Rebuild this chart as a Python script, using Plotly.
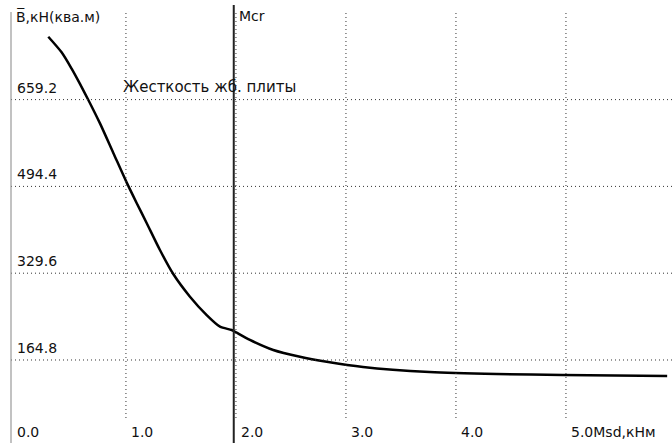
import plotly.graph_objects as go

# data
msd = [0.294, 0.415, 0.506, 0.582, 0.657, 0.764, 0.885, 1.006, 1.097, 1.188, 1.309, 1.43,
       1.582, 1.734, 1.855, 1.961, 2.006, 2.127, 2.339, 2.582, 2.825, 3.155, 3.76, 4.37, 4.97, 5.92]
bval = [778.6, 749, 718, 689, 659, 614, 558, 502, 463, 425, 373.6, 328,
        285, 250, 228, 221.8, 216.6, 202.8, 183.8, 171, 161.6, 151.7, 142.2, 138.2, 136.3, 134.4]
x_ticks = [0.0, 1.0, 2.0, 3.0, 4.0, 5.0]
x_labels = ["0.0", "1.0", "2.0", "3.0", "4.0", "5.0Msd,кНм"]
y_ticks = [164.8, 329.6, 494.4, 659.2]
y_labels = ["164.8", "329.6", "494.4", "659.2"]
mcr = 1.98
y_title = "B\u0305,кН(ква.м)"
mcr_label = "Mcr"
curve_label = "Жесткость жб. плиты"

FONT = dict(family="DejaVu Sans, Liberation Sans, Arial", size=14, color="#111")

fig = go.Figure()
fig.add_trace(go.Scatter(x=msd, y=bval, mode="lines",
                         line=dict(color="black", width=2.5, shape="spline", smoothing=0.7),
                         hoverinfo="skip", showlegend=False))

shapes = []
# horizontal dotted grid
for v in y_ticks:
    shapes.append(dict(type="line", xref="paper", yref="y", x0=11/672, x1=1, y0=v, y1=v,
                       line=dict(color="#333", width=1, dash="1px,3px")))
# vertical dotted grid
for v in x_ticks[1:]:
    shapes.append(dict(type="line", xref="x", yref="paper", x0=v, x1=v, y0=1-418/443, y1=1-13/443,
                       line=dict(color="#333", width=1, dash="1px,3px")))
# left axis line
shapes.append(dict(type="line", xref="paper", yref="paper", x0=11/672, x1=11/672, y0=0, y1=1-12/443,
                   line=dict(color="#999", width=1.2)))
# Mcr line
shapes.append(dict(type="line", xref="x", yref="paper", x0=mcr, x1=mcr, y0=0, y1=1-5/443,
                   line=dict(color="#222", width=2)))

ann = []
for v, t in zip(y_ticks, y_labels):
    ann.append(dict(x=15/672, xref="paper", y=v, yref="y", text=t, showarrow=False,
                    xanchor="left", yanchor="bottom", yshift=2, font=FONT))
for v, t in zip(x_ticks, x_labels):
    ann.append(dict(x=v, xref="x", y=11/443, yref="paper", text=t, showarrow=False,
                    xanchor="left", yanchor="middle", xshift=3 if v > 0 else -1, font=FONT))
ann.append(dict(x=14/672, xref="paper", y=1-16/443, yref="paper", text=y_title, showarrow=False,
                xanchor="left", yanchor="middle", font=FONT))
ann.append(dict(x=mcr, xref="x", y=1-16/443, yref="paper", text=mcr_label, showarrow=False,
                xanchor="left", yanchor="middle", xshift=3, font=FONT))
ann.append(dict(x=1.0, xref="x", y=659.2, yref="y", text=curve_label, showarrow=False,
                xanchor="left", yanchor="bottom", yshift=2, xshift=-5,
                font=dict(family=FONT["family"], size=15, color="#111")))

fig.update_layout(
    width=672, height=443, margin=dict(l=0, r=0, t=0, b=0),
    paper_bgcolor="white", plot_bgcolor="white",
    xaxis=dict(range=[-0.145, 5.964], visible=False, fixedrange=True),
    yaxis=dict(range=[7.2, 848.3], visible=False, fixedrange=True),
    shapes=shapes, annotations=ann, showlegend=False,
)
fig.write_html("out.html", config={"displayModeBar": False},
               post_script="document.body.style.margin='0';document.body.style.overflow='hidden';")
